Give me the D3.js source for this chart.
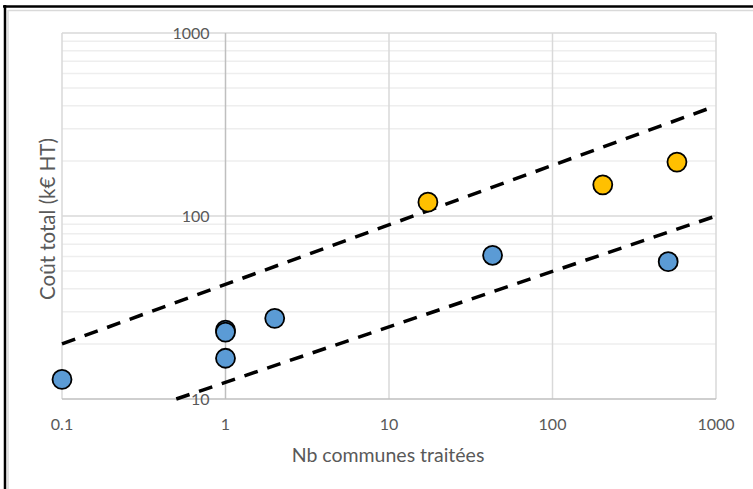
<!DOCTYPE html>
<html>
<head>
<meta charset="utf-8">
<script src="https://cdn.jsdelivr.net/npm/d3@7"></script>
<style>
  body { margin: 0; background: #fff; }
  svg { display: block; font-family: Lato, "Open Sans", sans-serif; }
</style>
</head>
<body>
<div id="vis"></div>
<script>
// Data
const blueX = [0.1, 1, 1, 1, 2, 43, 510];
const blueY = [12.8, 23.8, 23.2, 16.7, 27.6, 61, 56.3];
const yellowX = [17.3, 203, 577];
const yellowY = [119, 148, 197];
const upperLine = [[0.1, 20], [1000, 400]];
const lowerLine = [[0.5, 10], [1000, 100]];
const xTicks = [0.1, 1, 10, 100, 1000];
const yTicks = [10, 100, 1000];

const width = 753, height = 489;
const svg = d3.select("#vis").append("svg")
  .attr("width", width)
  .attr("height", height);

// outer frame
svg.append("line").attr("x1", 3).attr("x2", width).attr("y1", 6.5).attr("y2", 6.5)
  .style("stroke", "#000").style("stroke-width", 2.5);
svg.append("line").attr("x1", 5).attr("x2", 5).attr("y1", 5).attr("y2", height)
  .style("stroke", "#000").style("stroke-width", 2.5);
svg.append("line").attr("x1", 8).attr("x2", width).attr("y1", 10.5).attr("y2", 10.5)
  .style("stroke", "#d9d9d9").style("stroke-width", 1.5);
svg.append("line").attr("x1", 8).attr("x2", 8).attr("y1", 10).attr("y2", height)
  .style("stroke", "#d9d9d9").style("stroke-width", 1.5);

const xScale = d3.scaleLog().domain([0.1, 1000]).range([62, 716]);
const yScale = d3.scaleLog().domain([10, 1000]).range([399, 33]);

// minor horizontal gridlines
const minor = [];
[10, 100].forEach(dec => { for (let k = 2; k <= 9; k++) minor.push(dec * k); });
svg.selectAll(".minor").data(minor).enter().append("line")
  .attr("class", "minor")
  .attr("x1", xScale(0.1)).attr("x2", xScale(1000))
  .attr("y1", d => yScale(d)).attr("y2", d => yScale(d))
  .style("stroke", "#eeeeee").style("stroke-width", 1.5);

// major gridlines
svg.selectAll(".hmajor").data([100, 1000]).enter().append("line")
  .attr("class", "hmajor")
  .attr("x1", xScale(0.1)).attr("x2", xScale(1000))
  .attr("y1", d => yScale(d)).attr("y2", d => yScale(d))
  .style("stroke", "#d9d9d9").style("stroke-width", 1.5);
svg.selectAll(".vmajor").data([0.1, 10, 100, 1000]).enter().append("line")
  .attr("class", "vmajor")
  .attr("x1", d => xScale(d)).attr("x2", d => xScale(d))
  .attr("y1", yScale(1000)).attr("y2", yScale(10))
  .style("stroke", "#d9d9d9").style("stroke-width", 1.5);

// axis lines
svg.append("line")
  .attr("x1", xScale(0.1)).attr("x2", xScale(1000))
  .attr("y1", yScale(10)).attr("y2", yScale(10))
  .style("stroke", "#bfbfbf").style("stroke-width", 1.5);
svg.append("line")
  .attr("x1", xScale(1)).attr("x2", xScale(1))
  .attr("y1", yScale(1000)).attr("y2", yScale(10))
  .style("stroke", "#bfbfbf").style("stroke-width", 1.5);

// tick labels
svg.selectAll(".xlab").data(xTicks).enter().append("text")
  .attr("class", "xlab")
  .attr("x", d => xScale(d)).attr("y", 430)
  .attr("text-anchor", "middle")
  .style("font-size", "16px").style("fill", "#595959")
  .text(d => d);
svg.selectAll(".ylab").data(yTicks).enter().append("text")
  .attr("class", "ylab")
  .attr("x", xScale(1) - 16).attr("y", d => yScale(d) + 6)
  .attr("text-anchor", "end")
  .style("font-size", "16px").style("fill", "#595959")
  .text(d => d);

// axis titles
svg.append("text")
  .attr("x", 388).attr("y", 462)
  .attr("text-anchor", "middle")
  .style("font-size", "19.5px").style("fill", "#595959")
  .text("Nb communes traitées");
svg.append("text")
  .attr("transform", "translate(55, 219) rotate(-90)")
  .attr("text-anchor", "middle")
  .style("font-size", "20.5px").style("fill", "#595959")
  .text("Coût total (k€ HT)");

// dashed lines
const line = d3.line().x(d => xScale(d[0])).y(d => yScale(d[1]));
[upperLine, lowerLine].forEach(l => {
  svg.append("path").attr("d", line(l))
    .style("fill", "none").style("stroke", "#000")
    .style("stroke-width", 3.5).style("stroke-dasharray", "14,10");
});

// points
const blue = blueX.map((x, i) => ({ x, y: blueY[i] }));
const yellow = yellowX.map((x, i) => ({ x, y: yellowY[i] }));
svg.selectAll(".blue").data(blue).enter().append("circle")
  .attr("class", "blue")
  .attr("cx", d => xScale(d.x)).attr("cy", d => yScale(d.y))
  .attr("r", 9.5)
  .style("fill", "#5b9bd5").style("stroke", "#000").style("stroke-width", 1.8);
svg.selectAll(".yellow").data(yellow).enter().append("circle")
  .attr("class", "yellow")
  .attr("cx", d => xScale(d.x)).attr("cy", d => yScale(d.y))
  .attr("r", 9.5)
  .style("fill", "#ffc000").style("stroke", "#000").style("stroke-width", 1.8);
</script>
</body>
</html>
